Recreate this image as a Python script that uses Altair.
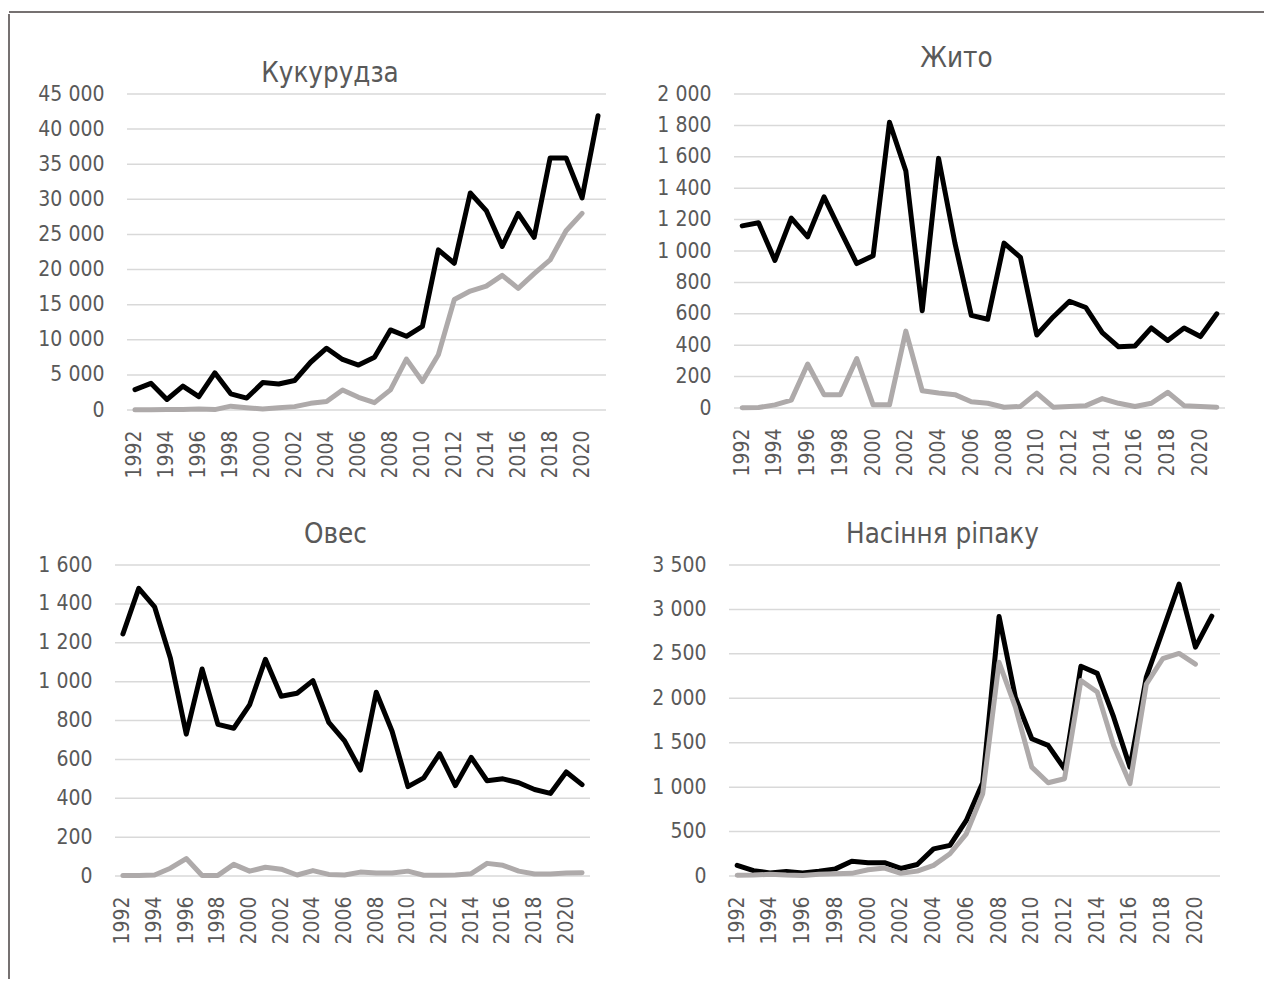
import altair as alt
import pandas as pd

years = list(range(1992, 2022))

corn_black = [2900, 3800, 1500, 3400, 1900, 5300, 2300, 1700, 3900, 3700, 4200, 6800, 8800, 7200,
              6400, 7500, 11400, 10500, 11900, 22800, 20900, 30900, 28400, 23300, 28000, 24600,
              35900, 35900, 30200, 41900]
corn_gray = [50, 50, 70, 80, 150, 60, 550, 330, 150, 330, 480, 950, 1200, 2860, 1810, 1050, 2860,
             7250, 4050, 7870, 15740, 16940, 17650, 19180, 17320, 19420, 21370, 25520, 28000, None]

rye_black = [1160, 1180, 940, 1210, 1090, 1345, 1130, 920, 970, 1820, 1510, 620, 1590, 1050, 590,
             565, 1050, 960, 465, 580, 680, 640, 480, 390, 395, 510, 430, 510, 455, 600]
rye_gray = [2, 3, 20, 50, 280, 85, 85, 315, 20, 20, 490, 110, 95, 85, 40, 30, 5, 10, 95, 5, 10, 15,
            60, 30, 10, 30, 100, 15, 10, 5]

oats_black = [1245, 1480, 1385, 1120, 730, 1065, 780, 760, 880, 1115, 925, 940, 1005, 790, 695, 545,
              945, 745, 460, 505, 630, 465, 610, 490, 500, 480, 445, 425, 535, 470]
oats_gray = [2, 2, 5, 40, 90, 3, 3, 60, 25, 45, 35, 5, 28, 8, 5, 20, 15, 15, 25, 4, 4, 5, 12, 65, 55,
             25, 10, 10, 15, 17]

rape_black = [120, 60, 35, 50, 35, 55, 80, 165, 150, 150, 85, 130, 305, 345, 625, 1050, 2920, 2010,
              1545, 1470, 1205, 2360, 2280, 1790, 1225, 2240, 2760, 3285, 2575, 2925]
rape_gray = [8, 10, 20, 10, 5, 20, 25, 30, 70, 90, 30, 55, 120, 250, 475, 925, 2405, 1900, 1225,
             1050, 1095, 2200, 2070, 1470, 1040, 2160, 2445, 2505, 2385, None]

titles = ["Кукурудза", "Жито", "Овес", "Насіння ріпаку"]

FONT = "DejaVu Sans Condensed, DejaVu Sans"
TXT = "#595959"
BORDER = "#767171"


def panel(title, black, gray, ymax, step, w, h, t_off, t_dx, lead=0):
    rows = []
    for yr, v in zip(years, black):
        rows.append({"year": yr, "value": v, "s": "a"})
    for yr, v in zip(years, gray):
        if v is not None:
            rows.append({"year": yr, "value": v, "s": "b"})
    df = pd.DataFrame(rows)
    ticks = list(range(0, ymax + 1, step))
    yscale = alt.Scale(domain=[0, ymax], nice=False)
    yaxis = alt.Axis(values=ticks, domain=False, ticks=False, grid=False,
                     labelFont=FONT, labelFontSize=21, labelColor=TXT,
                     labelPadding=23, offset=-lead,
                     labelExpr="replace(format(datum.value, ','), ',', '\u2004')")

    grid = alt.Chart(pd.DataFrame({"value": ticks})).mark_rule(
        color="#D9D9D9", strokeWidth=1.5).encode(
        x=alt.value(lead), x2=alt.value(lead + w),
        y=alt.Y("value:Q", title=None, scale=yscale, axis=yaxis))

    lines = alt.Chart(df).mark_line(
        strokeWidth=5, strokeJoin="round", strokeCap="round").encode(
        x=alt.X("year:O", title=None,
                scale=alt.Scale(type="point", padding=0.5, range=[lead, lead + w]),
                axis=alt.Axis(values=years[::2], labelAngle=-90, labelFont=FONT,
                              labelFontSize=21, labelColor=TXT, domain=False,
                              ticks=False, grid=False, labelPadding=20)),
        y=alt.Y("value:Q", title=None, scale=yscale, axis=yaxis),
        color=alt.Color("s:N", legend=None,
                        scale=alt.Scale(domain=["a", "b"], range=["#000000", "#AEAAAA"])),
    )
    return alt.layer(grid, lines, title=alt.TitleParams(
        title, font=FONT, fontSize=27.5, fontWeight="normal", color=TXT,
        anchor="middle", frame="group", offset=t_off, dx=t_dx)
    ).properties(width=w + lead, height=h)


p1 = panel(titles[0], corn_black, corn_gray, 45000, 5000, 479, 316, -4, -30.5, lead=12)
p2 = panel(titles[1], rye_black, rye_gray, 2000, 200, 491, 314, 10.5, -23)
p3 = panel(titles[2], oats_black, oats_gray, 1600, 200, 475, 311, 5.5, -17)
p4 = panel(titles[3], rape_black, rape_gray, 3500, 500, 491, 311, 5.5, -32)

row1 = alt.hconcat(p1, p2, spacing=49)
row2 = alt.hconcat(p3, p4, spacing=60)
rows = alt.vconcat(row1, row2, spacing=42)

one = pd.DataFrame({"k": [0]})
spacer = alt.Chart(one).mark_rule(strokeOpacity=0).encode(
    x=alt.value(0), y=alt.value(0), y2=alt.value(1)).properties(width=1, height=1)
main = alt.vconcat(spacer, rows, spacing=30)

left_border = alt.Chart(one).mark_rule(color=BORDER, strokeWidth=2).encode(
    x=alt.value(0), y=alt.value(0), y2=alt.value(965)).properties(width=1, height=1)
top_border = alt.Chart(one).mark_rule(color=BORDER, strokeWidth=2).encode(
    x=alt.value(0), x2=alt.value(1255), y=alt.value(0)).properties(width=1, height=1)

row = alt.hconcat(left_border, main, spacing=27)
chart = alt.vconcat(top_border, row, spacing=0).properties(
    padding={"left": 0, "top": 3, "right": 0, "bottom": 0}
).configure_view(stroke=None)

chart.save("out.html", embed_options={"renderer": "svg", "actions": False})
